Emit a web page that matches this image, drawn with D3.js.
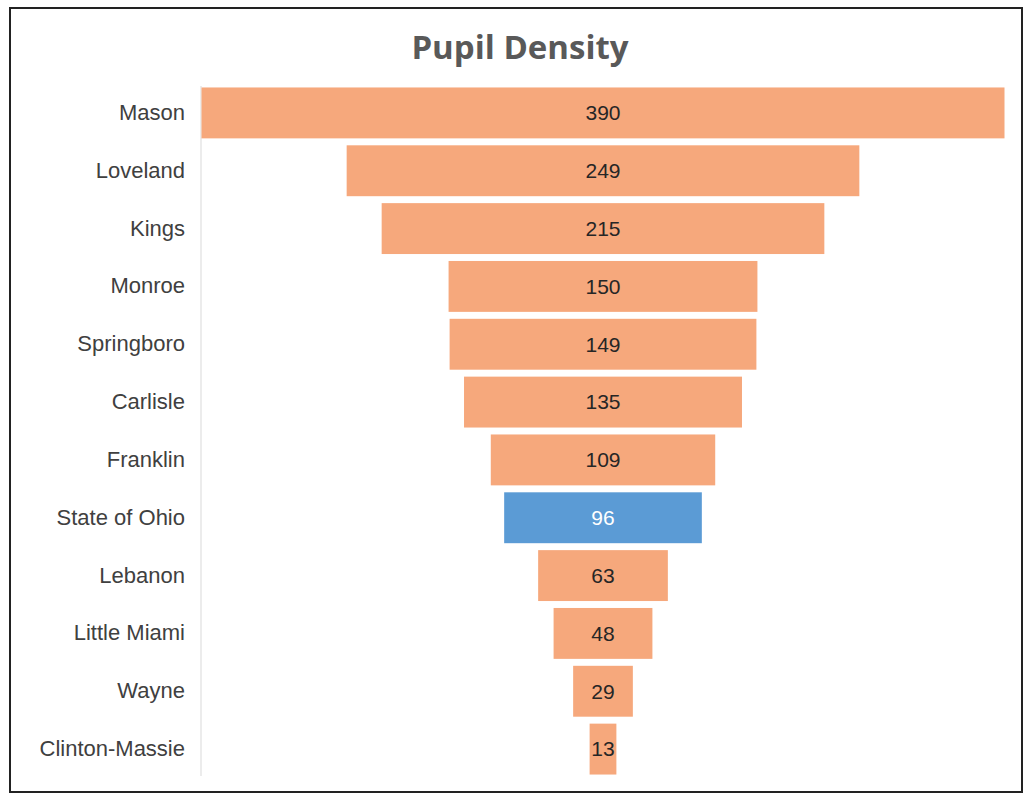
<!DOCTYPE html>
<meta charset="UTF-8">
<style>
  body { margin: 0; background: #fff; }
  .cat text { font: 22px "Liberation Sans", Arial, sans-serif; fill: #404040; }
  .val { font: 21px "Liberation Sans", Arial, sans-serif; fill: #262626; }
</style>
<body>
<script src="https://d3js.org/d3.v7.min.js"></script>
<script>

// districts, top to bottom
var districts = ["Mason", "Loveland", "Kings", "Monroe", "Springboro", "Carlisle",
                 "Franklin", "State of Ohio", "Lebanon", "Little Miami", "Wayne", "Clinton-Massie"];
var density = [390, 249, 215, 150, 149, 135, 109, 96, 63, 48, 29, 13];
var highlight = "State of Ohio";

var width = 1026, height = 795;
var centerX = 603;

var svg = d3.select("body").append("svg")
    .attr("width", width)
    .attr("height", height);

// chart border
svg.append("rect")
    .attr("x", 10).attr("y", 8)
    .attr("width", 1012).attr("height", 784)
    .attr("fill", "#fff")
    .attr("stroke", "#222")
    .attr("stroke-width", 2);

svg.append("text")
    .attr("x", 520).attr("y", 59)
    .attr("text-anchor", "middle")
    .style("font", "bold 33px 'Open Sans', sans-serif")
    .style("fill", "#595959")
    .text("Pupil Density");

var data = districts.map(function(d, i) { return {name: d, value: density[i]}; });

var y = d3.scaleBand()
    .domain(districts)
    .range([84, 778])
    .paddingInner(0.12)
    .paddingOuter(0.06);

// bar width scale, bars centred on centerX
var w = d3.scaleLinear()
    .domain([0, 390])
    .range([0, 803]);

// left axis line
svg.append("line")
    .attr("x1", 201).attr("x2", 201)
    .attr("y1", 86).attr("y2", 776)
    .attr("stroke", "#d9d9d9");

var yAxis = d3.axisLeft(y).tickSize(0).tickPadding(16);
var ax = svg.append("g")
    .attr("class", "cat")
    .attr("transform", "translate(201,0)")
    .call(yAxis);
ax.select(".domain").remove();

svg.selectAll("rect.bar")
    .data(data)
  .enter().append("rect")
    .attr("class", "bar")
    .attr("x", function(d) { return centerX - w(d.value) / 2; })
    .attr("y", function(d) { return y(d.name); })
    .attr("width", function(d) { return w(d.value); })
    .attr("height", y.bandwidth())
    .attr("fill", function(d) { return d.name === highlight ? "#5b9bd5" : "#f6a87c"; });

svg.selectAll("text.val")
    .data(data)
  .enter().append("text")
    .attr("class", "val")
    .attr("x", centerX)
    .attr("y", function(d) { return y(d.name) + y.bandwidth() / 2; })
    .attr("dy", "0.35em")
    .attr("text-anchor", "middle")
    .style("fill", function(d) { return d.name === highlight ? "#fff" : "#262626"; })
    .text(function(d) { return d.value; });

</script>
</body>
